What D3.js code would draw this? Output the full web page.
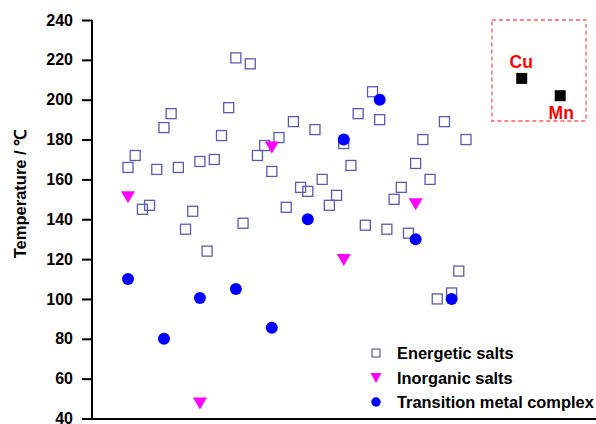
<!DOCTYPE html>
<html>
<head>
<meta charset="utf-8">
<script src="https://cdn.jsdelivr.net/npm/d3@7"></script>
<style>
html,body{margin:0;padding:0;background:#fff;}
svg{display:block;}
text{font-family:"Liberation Sans",Arial,sans-serif;font-weight:bold;}
</style>
</head>
<body>
<svg id="chart" width="596" height="424"></svg>
<script>
// ---- data ----
const energeticSalts = [166,172,145,147,165,186,193,166,135,144,169,124,170,182,196,221,138,218,172,177,164,181,146,189,156,154,185,160,147,152,178,167,193,137,204,190,135,150,156,133,168,180,160,100,189,103,114,180];
const inorganicIdx = [1,11,21,31,41];
const inorganicSalts = [151,47.5,176,119.5,147.5];
const metalIdx = [1,6,11,16,21,26,31,36,41,46];
const metalComplex = [110,80,100.5,105,85.5,140,180,200,130,100];
const highlightNames = ["Cu","Mn"];
const highlightIdx = [55.75,61.1];
const highlightVals = [210.7,202];
const yTicks = [40,60,80,100,120,140,160,180,200,220,240];
const legendLabels = ["Energetic salts","Inorganic salts","Transition metal complex"];

// ---- layout ----
const svg = d3.select("#chart");
const x = d3.scaleLinear().domain([1,48]).range([128,466]);
const y = d3.scaleLinear().domain([40,240]).range([418.5,20]);

// axes
const yAxis = d3.axisLeft(y).tickValues(yTicks).tickSize(10).tickPadding(9).tickFormat(d3.format("d"));
const gy = svg.append("g").attr("transform","translate(92,0)").call(yAxis);
gy.select(".domain").attr("stroke","#000").attr("stroke-width",2).attr("d","M0,20V419.5");
gy.selectAll(".tick line").attr("stroke","#000").attr("stroke-width",2);
gy.selectAll(".tick text").attr("font-size",16).attr("font-weight","bold").attr("fill","#000")
  .attr("font-family","'Liberation Sans',Arial,sans-serif");

svg.append("line").attr("x1",82).attr("x2",596).attr("y1",y(40)+0.5).attr("y2",y(40)+0.5)
  .attr("stroke","#000").attr("stroke-width",2.2);

svg.append("text").attr("transform","translate(26,194) rotate(-90)")
  .attr("text-anchor","middle").attr("font-size",16.5).attr("font-weight","bold")
  .text("Temperature / ℃");

// energetic salts
const sq = 10;
svg.append("g").selectAll("rect").data(energeticSalts).join("rect")
  .attr("x",(d,i)=>x(i+1)-sq/2).attr("y",d=>y(d)-sq/2)
  .attr("width",sq).attr("height",sq)
  .attr("fill","none").attr("stroke","#5a5ab4").attr("stroke-width",1.3);

// transition metal complex
svg.append("g").selectAll("circle").data(metalComplex).join("circle")
  .attr("cx",(d,i)=>x(metalIdx[i])).attr("cy",d=>y(d)).attr("r",6)
  .attr("fill","#0000ff");

// inorganic salts (down triangles)
const tri = (cx,cy,w,h)=>`M${cx-w/2},${cy-h/2}L${cx+w/2},${cy-h/2}L${cx},${cy+h/2}Z`;
svg.append("g").selectAll("path").data(inorganicSalts).join("path")
  .attr("d",(d,i)=>tri(x(inorganicIdx[i]),y(d),14,12))
  .attr("fill","#ff00ff");

// highlighted box
const bx0 = x(51.6), bx1 = x(64.7), by0 = y(240), by1 = y(189.3);
svg.append("rect").attr("x",bx0).attr("y",by0).attr("width",bx1-bx0).attr("height",by1-by0)
  .attr("fill","none").attr("stroke","#ff5a5a").attr("stroke-width",1.3).attr("stroke-dasharray","4,3");

svg.append("g").selectAll("rect").data(highlightVals).join("rect")
  .attr("x",(d,i)=>x(highlightIdx[i])-5.5).attr("y",d=>y(d)-5.5)
  .attr("width",11).attr("height",11).attr("fill","#000");

svg.append("g").selectAll("text").data(highlightNames).join("text")
  .attr("x",(d,i)=>x(highlightIdx[i]) + (i===0?-0.5:1))
  .attr("y",(d,i)=>i===0 ? y(highlightVals[i])-10 : y(highlightVals[i])+23)
  .attr("text-anchor","middle").attr("font-size",17.5).attr("fill","#ff0000")
  .text(d=>d);

// legend
const lg = svg.append("g");
const ly = [353,378,402];
lg.append("rect").attr("x",376-4).attr("y",ly[0]-4).attr("width",8).attr("height",8)
  .attr("fill","none").attr("stroke","#5a5ab4").attr("stroke-width",1.2);
lg.append("path").attr("d",tri(376,ly[1],11,10)).attr("fill","#ff00ff");
lg.append("circle").attr("cx",376).attr("cy",ly[2]).attr("r",4.7).attr("fill","#0000ff");
lg.selectAll("text").data(legendLabels).join("text")
  .attr("x",397).attr("y",(d,i)=>ly[i]+6).attr("font-size",16.4).attr("fill","#000")
  .text(d=>d);
</script>
</body>
</html>
